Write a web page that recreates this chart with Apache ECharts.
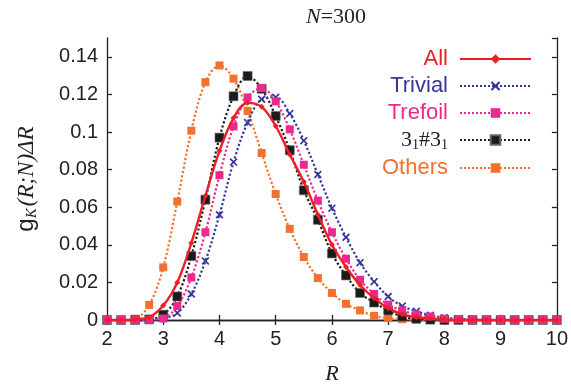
<!DOCTYPE html>
<html><head><meta charset="utf-8">
<script src="https://cdn.jsdelivr.net/npm/echarts@6/dist/echarts.min.js"></script>
<style>html,body{margin:0;padding:0;background:#fff}#c{width:571px;height:390px}</style>
</head><body><div id="c"></div>
<script>
var rValues = [2,2.25,2.5,2.75,3,3.25,3.5,3.75,4,4.25,4.5,4.75,5,5.25,5.5,5.75,6,6.25,6.5,6.75,7,7.25,7.5,7.75,8,8.25,8.5,8.75,9,9.25,9.5,9.75,10];
var allVals = [0,0,0.0003,0.0015,0.0077,0.020,0.041,0.066,0.090,0.1074,0.1155,0.1134,0.1032,0.088,0.0735,0.056,0.040,0.0282,0.0186,0.0116,0.0063,0.003,0.0015,0.0008,0.0003,0,0,0,0,0,0,0,0];
var trivialVals = [0,0,0,0.0002,0.0008,0.0037,0.0138,0.0314,0.056,0.084,0.105,0.1174,0.1185,0.1098,0.0954,0.0774,0.0595,0.044,0.0305,0.0204,0.0125,0.0074,0.0047,0.0025,0.0012,0.0006,0.0003,0,0,0,0,0,0];
var trefoilVals = [0,0,0,0.0001,0.0008,0.0074,0.0226,0.0467,0.077,0.103,0.1184,0.1234,0.1163,0.1014,0.0826,0.0635,0.0467,0.0326,0.0214,0.0139,0.0082,0.0051,0.003,0.0019,0.0007,0.0003,0,0,0,0,0,0,0];
var compVals = [0,0,0,0.0003,0.0028,0.0125,0.034,0.064,0.097,0.119,0.1298,0.123,0.1085,0.0903,0.069,0.0533,0.0354,0.0237,0.0144,0.0093,0.0051,0.0018,0.0007,0.0002,0,0,0,0,0,0,0,0,0];
var othersVals = [0,0,0.0007,0.008,0.028,0.063,0.1007,0.1265,0.1354,0.1284,0.1112,0.0888,0.067,0.0485,0.0335,0.0223,0.0144,0.0086,0.0051,0.0022,0.001,0.0004,0.0002,0,0,0,0,0,0,0,0,0,0];
var seriesNames = ['All','Trivial','Trefoil','3_1#3_1','Others'];
var xTicks = [2,3,4,5,6,7,8,9,10];

function pairs(v){ return rValues.map(function(r,i){ return [r, v[i]]; }); }
var RED='#ec1f27', BLUE='#34379a', PINK='#ec2a8e', BLACK='#1b1b1b', ORANGE='#f2712e';
var xPath='path://M0,1.5L1.5,0L5,3.5L8.5,0L10,1.5L6.5,5L10,8.5L8.5,10L5,6.5L1.5,10L0,8.5L3.5,5Z';

var chart = echarts.init(document.getElementById('c'), null, {renderer:'canvas'});
var axisLineStyle = {color:'#222', width:1.3};
chart.setOption({
  animation:false,
  title:{text:'{n|N}{t|=300}', left:331, textAlign:'center', top:1,
    textStyle:{fontWeight:'normal', rich:{n:{fontFamily:'Liberation Serif',fontStyle:'italic',fontWeight:'normal',fontSize:22,color:'#222'},t:{fontFamily:'Liberation Serif',fontWeight:'normal',fontSize:22,color:'#222'}}}},
  grid:{left:107, right:8, top:38, bottom:67},
  legend:{
    right:34, top:43, orient:'vertical', align:'right', itemWidth:71, itemHeight:12, itemGap:5,
    textStyle:{fontFamily:'Liberation Sans', fontSize:22, lineHeight:22, padding:[0,7,0,0],
      rich:{a:{fontFamily:'Liberation Serif',fontSize:22,color:'#222'},s:{fontFamily:'Liberation Serif',fontSize:14,color:'#222',padding:[10,0,0,0]}}},
    formatter:function(n){ return n==='3_1#3_1' ? '{a|3}{s|1}{a|#3}{s|1}' : n; },
    data:[
      {name:'All', textStyle:{color:RED}},
      {name:'Trivial', textStyle:{color:BLUE}},
      {name:'Trefoil', textStyle:{color:PINK}},
      {name:'3_1#3_1', textStyle:{color:BLACK}},
      {name:'Others', textStyle:{color:ORANGE}}
    ]
  },
  xAxis:[{
    type:'value', min:2, max:10, interval:1, position:'bottom',
    name:'R', nameLocation:'middle', nameGap:43,
    nameTextStyle:{fontFamily:'Liberation Serif', fontStyle:'italic', fontSize:22, color:'#222'},
    axisLine:{lineStyle:axisLineStyle}, axisTick:{inside:true,length:5,lineStyle:axisLineStyle},
    axisLabel:{fontFamily:'Liberation Sans', fontSize:20, color:'#222', margin:9},
    splitLine:{show:false}
  },{
    type:'value', min:2, max:10, interval:1, position:'top',
    axisLine:{lineStyle:axisLineStyle}, axisTick:{inside:true,length:5,lineStyle:axisLineStyle},
    axisLabel:{show:false}, splitLine:{show:false}
  }],
  yAxis:[{
    type:'value', min:0, max:0.15, interval:0.02, position:'left',
    name:'{g|g}{k|K}{p|(R;N)}{d|ΔR}', nameLocation:'middle', nameGap:67, nameRotate:90,
    nameTextStyle:{rich:{
      g:{fontFamily:'Liberation Sans',fontSize:24,color:'#222'},
      k:{fontFamily:'Liberation Serif',fontStyle:'italic',fontSize:15,color:'#222',padding:[12,2,0,0]},
      p:{fontFamily:'Liberation Serif',fontStyle:'italic',fontSize:23,color:'#222'},
      d:{fontFamily:'Liberation Serif',fontStyle:'italic',fontSize:23,color:'#222'}}},
    axisLine:{lineStyle:axisLineStyle}, axisTick:{inside:true,length:5,lineStyle:axisLineStyle},
    axisLabel:{fontFamily:'Liberation Sans', fontSize:20, color:'#222', margin:9, showMaxLabel:false},
    splitLine:{show:false}
  },{
    type:'value', min:0, max:0.15, interval:0.02, position:'right',
    axisLine:{lineStyle:axisLineStyle}, axisTick:{inside:true,length:5,lineStyle:axisLineStyle},
    axisLabel:{show:false}, splitLine:{show:false}
  }],
  series:[
    {name:'Others', type:'line', smooth:0.35, data:pairs(othersVals), symbol:'rect', symbolSize:8,
      itemStyle:{color:ORANGE}, lineStyle:{color:ORANGE,width:2.2,type:'dotted'}, z:2},
    {name:'3_1#3_1', type:'line', smooth:0.35, data:pairs(compVals), symbol:'rect', symbolSize:9,
      itemStyle:{color:BLACK, borderColor:'#666', borderWidth:0.6}, lineStyle:{color:BLACK,width:2.2,type:'dotted'}, z:3},
    {name:'Trivial', type:'line', smooth:0.35, data:pairs(trivialVals), symbol:xPath, symbolSize:8,
      itemStyle:{color:BLUE}, lineStyle:{color:BLUE,width:2.2,type:'dotted'}, z:3},
    {name:'Trefoil', type:'line', smooth:0.35, data:pairs(trefoilVals), symbol:'rect', symbolSize:8,
      itemStyle:{color:PINK}, lineStyle:{color:PINK,width:2.2,type:'dotted'}, z:4},
    {name:'All', type:'line', smooth:0.35, data:pairs(allVals), symbol:'diamond', symbolSize:6,
      itemStyle:{color:RED}, lineStyle:{color:RED,width:2.4,type:'solid'}, z:5}
  ]
});
</script></body></html>
